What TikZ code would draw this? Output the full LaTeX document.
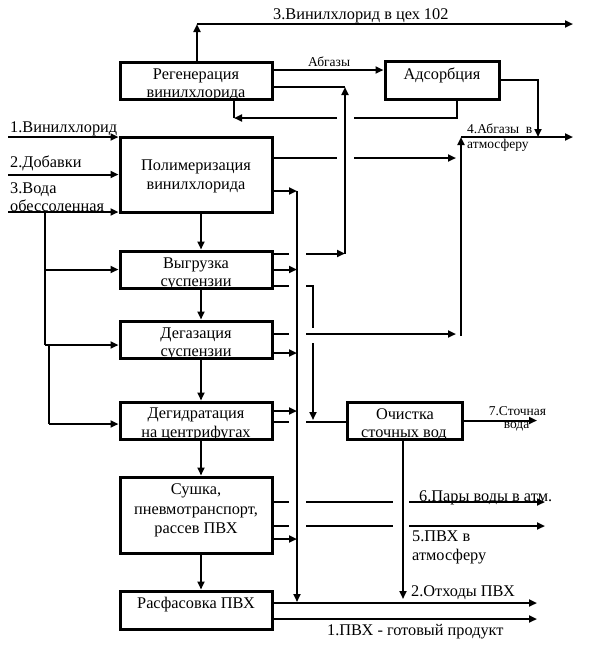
\documentclass[tikz,border=0pt]{standalone}
\usepackage{fontspec}
\setmainfont{Liberation Serif}
\usetikzlibrary{arrows.meta}
\begin{document}
\begin{tikzpicture}[x=1pt,y=-1pt,
  box/.style={draw,line width=3pt,inner sep=0pt},
  conn/.style={line width=2pt},
  arr/.style={conn,-{Triangle[length=8pt,width=7pt]}},
  big/.style={font=\fontsize{16.3}{19}\selectfont,inner sep=0pt},
  small/.style={font=\fontsize{13.5}{13}\selectfont,inner sep=0pt}]
\useasboundingbox (0,0) rectangle (595,657);
\fill[white] (0,0) rectangle (595,657);
% boxes
\node[box,minimum width=152pt,minimum height=37pt] (reg) at (196,80.5) {};
\node[box,minimum width=114pt,minimum height=38pt] (ads) at (442,80) {};
\node[box,minimum width=152pt,minimum height=75pt] (pol) at (196,174.5) {};
\node[box,minimum width=152pt,minimum height=37pt] (vyg) at (196,269.5) {};
\node[box,minimum width=152pt,minimum height=37pt] (deg) at (196,339.5) {};
\node[box,minimum width=152pt,minimum height=37pt] (dgd) at (196,420.5) {};
\node[box,minimum width=152pt,minimum height=76pt] (sus) at (196,515) {};
\node[box,minimum width=152pt,minimum height=38pt] (ras) at (196,610) {};
\node[box,minimum width=115pt,minimum height=37pt] (och) at (404.5,420.5) {};
% box texts
\node[big,anchor=base] (regA) at (196,79) {Регенерация};
\node[big,anchor=base] (regB) at (196,97) {винилхлорида};
\node[big,anchor=base] (adsA) at (442,79) {Адсорбция};
\node[big,anchor=base] (polA) at (196,170) {Полимеризация};
\node[big,anchor=base] (polB) at (196,189) {винилхлорида};
\node[big,anchor=base] (vygA) at (196,268) {Выгрузка};
\node[big,anchor=base] (vygB) at (196,286) {суспензии};
\node[big,anchor=base] (degA) at (196,338) {Дегазация};
\node[big,anchor=base] (degB) at (196,356) {суспензии};
\node[big,anchor=base] (dgdA) at (196,418) {Дегидратация};
\node[big,anchor=base] (dgdB) at (196,437) {на центрифугах};
\node[big,anchor=base] (ochA) at (405,419) {Очистка};
\node[big,anchor=base] (ochB) at (404,437) {сточных вод};
\node[big,anchor=base] (susA) at (196,494) {Сушка,};
\node[big,anchor=base] (susB) at (196,514) {пневмотранспорт,};
\node[big,anchor=base] (susC) at (196,533) {рассев ПВХ};
\node[big,anchor=base] (rasA) at (196,608) {Расфасовка ПВХ};
% outer labels
\node[big,anchor=base west] (l3v) at (273,19) {3.Винилхлорид в цех 102};
\node[small,anchor=base west] (labz) at (308,66) {Абгазы};
\node[small,anchor=base west] (l4a) at (467,133) {4.Абгазы~ в};
\node[small,anchor=base west] (l4b) at (467,148) {атмосферу};
\node[small,anchor=base] (l7a) at (517.5,415) {7.Сточная};
\node[small,anchor=base] (l7b) at (516.5,428) {вода};
\node[big,anchor=base west] (l6) at (419,501) {6.Пары воды в атм.};
\node[big,anchor=base west] (l5a) at (412,541) {5.ПВХ в};
\node[big,anchor=base west] (l5b) at (412,560) {атмосферу};
\node[big,anchor=base west] (l2) at (411,596) {2.Отходы ПВХ};
\node[big,anchor=base west] (l1) at (327,635) {1.ПВХ - готовый продукт};
\node[big,anchor=base west] (in1) at (10,132) {1.Винилхлорид};
\node[big,anchor=base west] (in2) at (10,167) {2.Добавки};
\node[big,anchor=base west] (in3a) at (10,193) {3.Вода};
\node[big,anchor=base west] (in3b) at (10,211) {обессоленная};
% coordinates
\coordinate (t1) at (197,24);
\coordinate (t2) at (573,24);
\coordinate (a1) at (345,87);
\coordinate (a2) at (345,253.5);
\coordinate (a3) at (306,253.5);
\coordinate (a0) at (289,253.5);
\coordinate (b1) at (457,118);
\coordinate (b2) at (354,118);
\coordinate (b3) at (337,118);
\coordinate (b4) at (234,118);
\coordinate (c1) at (538,80);
\coordinate (c2) at (538,137);
\coordinate (d1) at (461,336);
\coordinate (d2) at (461,137);
\coordinate (d3) at (573,137);
\coordinate (e1) at (337,158);
\coordinate (e2) at (354,158);
\coordinate (e3) at (456,158);
\coordinate (k1) at (297,191);
\coordinate (k2) at (297,602);
\coordinate (kd) at (297,353);
\coordinate (kg) at (297,411);
\coordinate (ks) at (297,539);
\coordinate (f0) at (289,286);
\coordinate (f1) at (306,286);
\coordinate (f2) at (313,286);
\coordinate (f3) at (313,328);
\coordinate (f4) at (313,343);
\coordinate (f5) at (313,420);
\coordinate (g0) at (289,334);
\coordinate (g1) at (306,334);
\coordinate (g2) at (456,334);
\coordinate (h0) at (289,422);
\coordinate (h1) at (306,422);
\coordinate (o1) at (537,420.5);
\coordinate (o2) at (403,599);
\coordinate (s0) at (289,502);
\coordinate (s1) at (306,502);
\coordinate (s2) at (393,502);
\coordinate (s3) at (409,502);
\coordinate (s4) at (545,502);
\coordinate (u0) at (289,526);
\coordinate (u1) at (306,526);
\coordinate (u2) at (393,526);
\coordinate (u3) at (409,526);
\coordinate (u4) at (545,526);
\coordinate (r1) at (537,603);
\coordinate (r2) at (537,619);
\coordinate (i1) at (8,137);
\coordinate (i2) at (8,174.5);
\coordinate (i3) at (8,212);
\coordinate (w1) at (45,212);
\coordinate (w2) at (45,345);
\coordinate (w3) at (45,269.5);
\coordinate (w4) at (49,345);
\coordinate (w5) at (49,424);
% connectors
\draw[arr] ([xshift=1pt]reg.north) -- (t1);
\draw[arr] (t1) -- (t2);
\draw[arr] ([yshift=10.5pt]reg.east) -- ([yshift=10pt]ads.west);
\draw[conn] ([yshift=-6.5pt]reg.east) -- (a1);
\draw[arr] (a2) -- (a1);
\draw[arr] (a3) -- (a2);
\draw[conn] ([yshift=16pt]vyg.east) -- (a0);
\draw[conn] ([xshift=15pt]ads.south) -- (b1) -- (b2);
\draw[arr] (b3) -- (b4);
\draw[conn] (b4) -- ([xshift=38pt]reg.south);
\draw[arr] (ads.east) -- (c1) -- (c2);
\draw[arr] (d1) -- (d2);
\draw[arr] (d2) -- (d3);
\draw[conn] ([yshift=16.5pt]pol.east) -- (e1);
\draw[arr] (e2) -- (e3);
\draw[arr] ([yshift=-16.5pt]pol.east) -- (k1);
\draw[arr] (k1) -- (k2);
\draw[arr] (vyg.east) -- (vyg.east -| k1);
\draw[conn] ([yshift=-16.5pt]vyg.east) -- (f0);
\draw[conn] (f1) -- (f2) -- (f3);
\draw[arr] (f4) -- (f5);
\draw[conn] ([yshift=5.5pt]deg.east) -- (g0);
\draw[arr] (g1) -- (g2);
\draw[arr] ([yshift=-13.5pt]deg.east) -- (kd);
\draw[arr] ([yshift=9.5pt]dgd.east) -- (kg);
\draw[conn] ([yshift=-1.5pt]dgd.east) -- (h0);
\draw[conn] (h1) -- ([yshift=-1.5pt]och.west);
\draw[arr] (och.east) -- (o1);
\draw[arr] ([xshift=-1.5pt]och.south) -- (o2);
\draw[conn] ([yshift=13pt]sus.east) -- (s0);
\draw[conn] (s1) -- (s2);
\draw[arr] (s3) -- (s4);
\draw[conn] ([yshift=-11pt]sus.east) -- (u0);
\draw[conn] (u1) -- (u2);
\draw[arr] (u3) -- (u4);
\draw[arr] ([yshift=-24pt]sus.east) -- (ks);
\draw[arr] ([yshift=7pt]ras.east) -- (r1);
\draw[arr] ([yshift=-9pt]ras.east) -- (r2);
\draw[arr] (i1) -- ([yshift=37.5pt]pol.west);
\draw[arr] (i2) -- (pol.west);
\draw[arr] (i3) -- ([yshift=-37.5pt]pol.west);
\draw[conn] (w1) -- (w2);
\draw[arr] (w3) -- (vyg.west);
\draw[arr] (w2) -- ([yshift=-5.5pt]deg.west);
\draw[conn] (w4) -- (w5);
\draw[arr] (w5) -- ([yshift=-3.5pt]dgd.west);
\draw[arr] ([xshift=5pt]pol.south) -- ([xshift=5pt]vyg.north);
\draw[arr] ([xshift=5pt]vyg.south) -- ([xshift=5pt]deg.north);
\draw[arr] ([xshift=5pt]deg.south) -- ([xshift=5pt]dgd.north);
\draw[arr] ([xshift=5pt]dgd.south) -- ([xshift=5pt]sus.north);
\draw[arr] ([xshift=5pt]sus.south) -- ([xshift=5pt]ras.north);
\end{tikzpicture}
\end{document}
